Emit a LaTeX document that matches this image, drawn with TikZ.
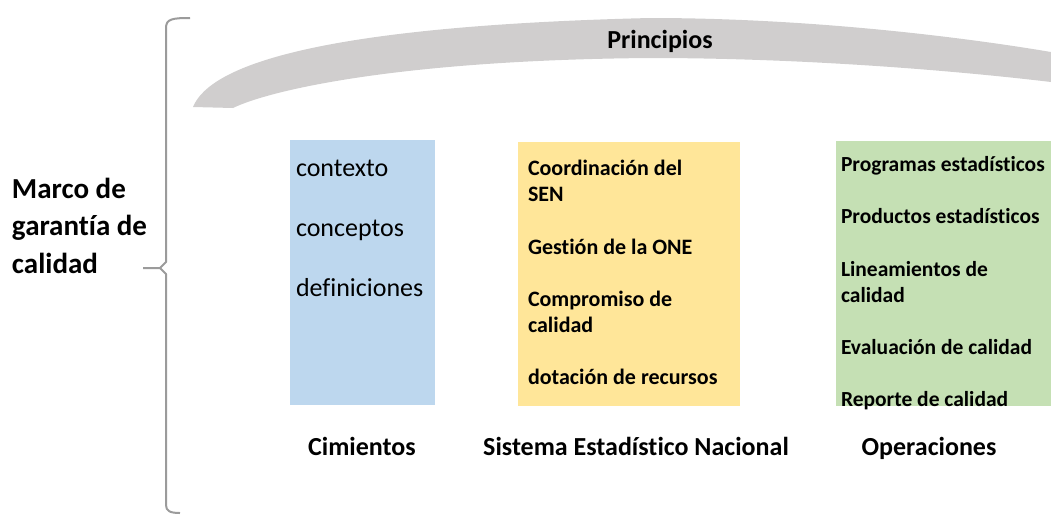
\documentclass[tikz,border=0pt]{standalone}
\usepackage{fontspec}
\setmainfont[Ligatures={NoCommon}]{Carlito}
\usetikzlibrary{positioning}
\definecolor{cimblue}{RGB}{189,215,238}
\definecolor{senyellow}{RGB}{255,230,153}
\definecolor{opgreen}{RGB}{197,224,180}
\definecolor{bandgray}{RGB}{208,206,206}
\definecolor{bracegray}{RGB}{155,155,155}

\begin{document}
\begin{tikzpicture}[
  x=1pt, y=-1pt,
  every node/.style={inner sep=0pt, outer sep=0pt},
  pillar/.style={anchor=north west, minimum width=#1},
  item/.style={anchor=base west, align=left},
  itemreg/.style={item, font=\fontsize{26}{32}\selectfont},
  itembf/.style={item, font=\fontsize{22}{26}\selectfont\bfseries},
  itemsm/.style={item, font=\fontsize{21.5}{26}\selectfont\bfseries},
  title/.style={anchor=base, font=\fontsize{26}{32}\selectfont\bfseries},
  brace/.style={draw=bracegray, line width=2pt, line join=round}
  ] %
    \useasboundingbox (0,0) rectangle (1051,515);
    %% principios band
    \fill[bandgray] (193,107) .. controls (210,65) and (320,26) .. (650,18)
      .. controls (800,18) and (950,35) .. (1051,52) -- (1051,82)
      .. controls (950,70) and (800,58) .. (650,58)
      .. controls (400,60) and (270,90) .. (233,108) -- cycle;
    \node[title](princ) at (660,48){Principios};
    %% brace
    \coordinate (btop) at (190,18);
    \coordinate (btip) at (143,268);
    \coordinate (bbot) at (180,513);
    \draw[brace] (btop) .. controls (172,18) and (166,19) .. (166,28)
      -- (166,262) -- (160,268) -- (btip);
    \draw[brace] (160,268) -- (166,274) -- (166,505)
      .. controls (166,511) and (170,513) .. (bbot);
    % last line baseline for the multi-line nodes
    \node[item, font=\fontsize{29}{37.5}\selectfont\bfseries](marco) at (12,273)
      {Marco de\\garantía de\\calidad};
    %% pillars
    \node[pillar=145pt, minimum height=265pt, fill=cimblue](cim) at (290,140){};
    \node[pillar=222pt, minimum height=264pt, fill=senyellow](sen) at (518,142){};
    \node[pillar=215pt, minimum height=265pt, fill=opgreen](ope) at (836,141){};
    %% cimientos
    \node[itemreg](contexto) at (296,176){contexto};
    \node[itemreg](conceptos) at (296,236){conceptos};
    \node[itemreg](defin) at (296,296){definiciones};
    %% sen
    \node[itembf](coord) at (528,201){Coordinación del\\SEN};
    \node[itembf](gestion) at (528,254){Gestión de la ONE};
    \node[itembf](compr) at (528,332){Compromiso de\\calidad};
    \node[itembf](dotac) at (528,384){dotación de recursos};
    %% operaciones
    \node[itemsm](progr) at (841,171){Programas estadísticos};
    \node[itemsm](produ) at (841,223){Productos estadísticos};
    \node[itemsm](linea) at (841,302){Lineamientos de\\calidad};
    \node[itemsm](evalu) at (841,354){Evaluación de calidad};
    \node[itemsm](repor) at (841,406){Reporte de calidad};
    %% pillar names
    \node[title](cimlab) at (362,455){Cimientos};
    \node[title](senlab) at (636,455){Sistema Estadístico Nacional};
    \node[title](opelab) at (929,455){Operaciones};
  \end{tikzpicture}
\end{document}
